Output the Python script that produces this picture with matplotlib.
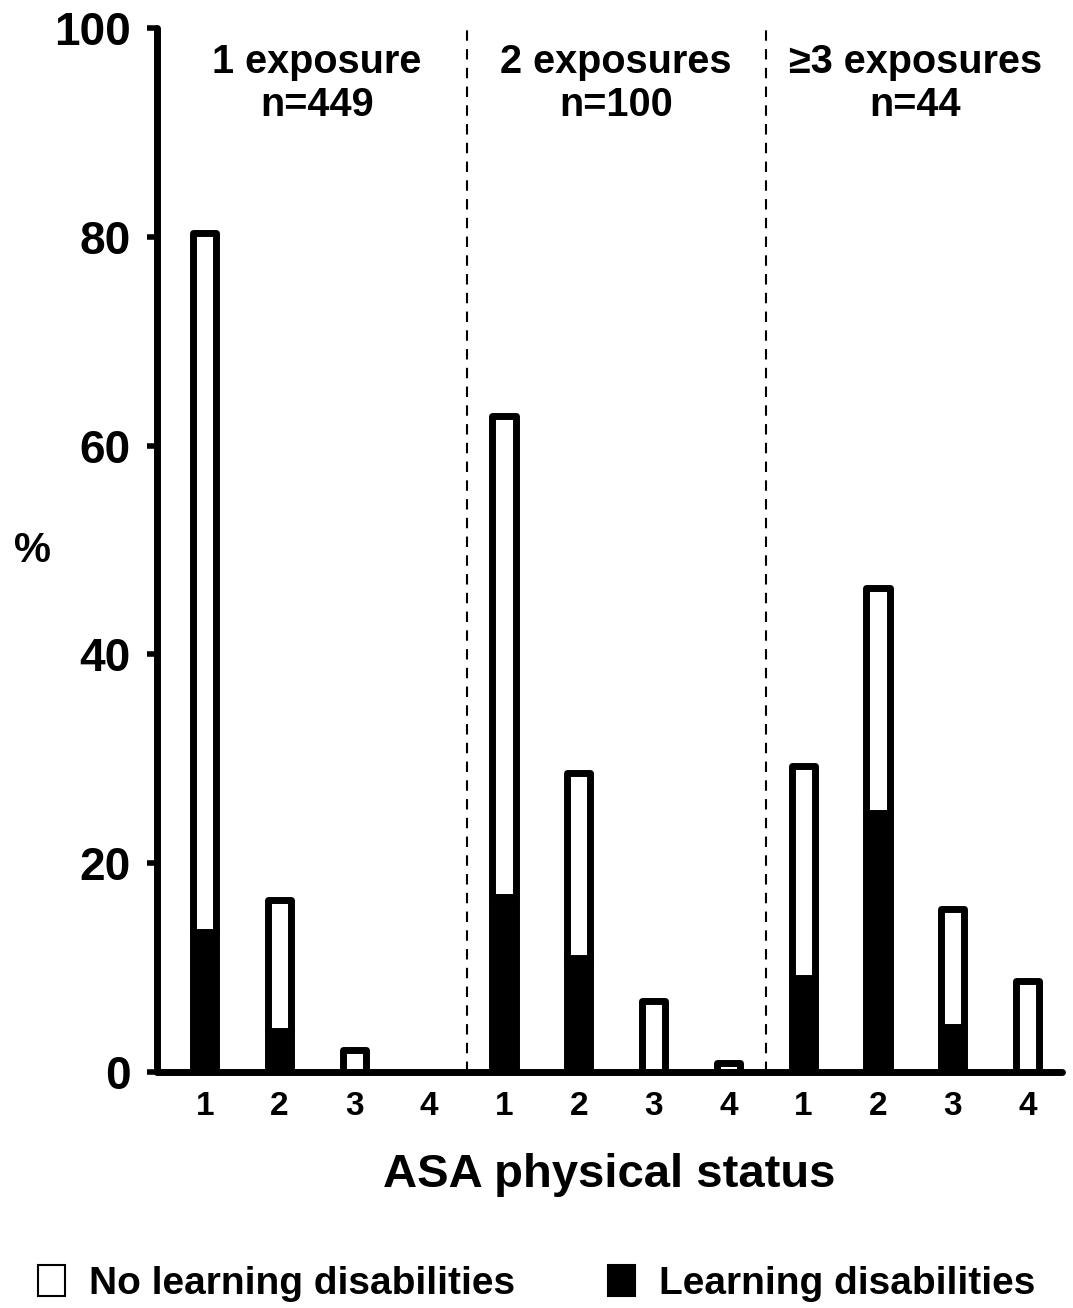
import matplotlib
matplotlib.use("Agg")
import matplotlib.pyplot as plt
from matplotlib.patches import Patch
import numpy as np

plt.rcParams['font.family'] = ['Liberation Sans', 'DejaVu Sans']
plt.rcParams['font.weight'] = 'bold'

groups = ["1 exposure\nn=449", "2 exposures\nn=100", "\u22653 exposures\nn=44"]
asa_labels = ["1", "2", "3", "4"]
# total % per ASA status within each exposure group
total = [[80.4, 16.5, 2.1, 0.0],
         [62.8, 28.6, 6.8, 0.9],
         [29.3, 46.4, 15.6, 8.7]]
# % with learning disabilities (black, bottom)
ld = [[13.4, 3.9, 0.0, 0.0],
      [16.8, 10.9, 0.0, 0.0],
      [9.0, 24.8, 4.3, 0.0]]

fig = plt.figure(figsize=(10.73, 13.08), dpi=100)
ax = fig.add_axes([0.1463, 0.1804, 0.8434, 0.7982])

lw = 5
w = 0.31
for g in range(3):
    for k in range(4):
        x = g * 4 + k
        t = total[g][k]
        b = ld[g][k]
        if t <= 0:
            continue
        if b > 0:
            ax.bar(x, b, width=w, color='black', edgecolor='black', linewidth=lw,
                   joinstyle='round', zorder=3)
        if t - b > 0:
            ax.bar(x, t - b, bottom=b, width=w, color='white', edgecolor='black',
                   linewidth=lw, joinstyle='round', zorder=3)

for xv in [3.5, 7.5]:
    ax.plot([xv, xv], [0, 100], color='black', linestyle=(0, (5, 4)), linewidth=1.5, zorder=1)

for g, lab in enumerate(groups):
    ax.text(g * 4 + 1.5, 98.6, lab, ha='center', va='top', fontsize=28.5,
            fontweight='bold', linespacing=1.18)

ax.set_xlim(-0.64, 11.46)
ax.set_ylim(0, 100)
ax.set_xticks(range(12))
ax.set_xticklabels(asa_labels * 3, fontsize=24, fontweight='bold')
ax.tick_params(axis='x', length=0, pad=14)
ax.set_yticks([0, 20, 40, 60, 80, 100])
ax.set_yticklabels(["0", "20", "40", "60", "80", "100"], fontsize=33, fontweight='bold')
ax.tick_params(axis='y', length=7, width=4, pad=12, direction='out')

for s in ['top', 'right']:
    ax.spines[s].set_visible(False)
for s in ['left', 'bottom']:
    ax.spines[s].set_linewidth(5)
    ax.spines[s].set_capstyle('round')
ax.spines['left'].set_zorder(4)
ax.spines['bottom'].set_zorder(4)

ax.set_xlabel("ASA physical status", fontsize=34, fontweight='bold', labelpad=22)
fig.text(0.030, 0.579, "%", fontsize=30, fontweight='bold', ha='center', va='center')

handles = [Patch(facecolor='white', edgecolor='black', linewidth=1.5, label='No learning disabilities'),
           Patch(facecolor='black', edgecolor='black', linewidth=1.5, label='Learning disabilities')]
fig.legend(handles=handles, loc='center', bbox_to_anchor=(0.5, 0.019), ncol=2,
           frameon=False, prop={'size': 28, 'weight': 'bold'}, columnspacing=2.4,
           handlelength=0.7, handleheight=0.85, handletextpad=0.6)

fig.savefig("out.png", dpi=100)
